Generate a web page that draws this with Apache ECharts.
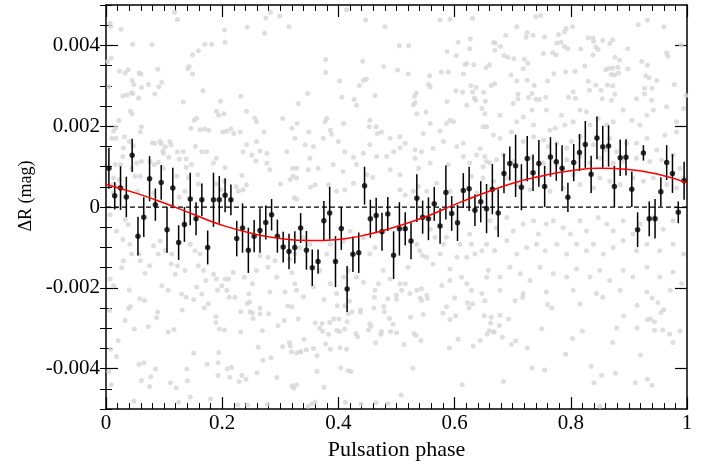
<!DOCTYPE html>
<html>
<head>
<meta charset="utf-8">
<script src="https://cdn.jsdelivr.net/npm/echarts@6/dist/echarts.min.js"></script>
<style>
  html, body { margin: 0; padding: 0; background: #fff; }
  #chart { width: 728px; height: 466px; }
</style>
</head>
<body>
<div id="chart"></div>
<script>
// binned light curve: phase, mean dR, error half-length
var binPhase = [
  0.005,0.015,0.025,0.035,0.045,0.055,0.065,0.075,0.085,0.095,
  0.105,0.115,0.125,0.135,0.145,0.155,0.165,0.175,0.185,0.195,
  0.205,0.215,0.225,0.235,0.245,0.255,0.265,0.275,0.285,0.295,
  0.305,0.315,0.325,0.335,0.345,0.355,0.365,0.375,0.385,0.395,
  0.405,0.415,0.425,0.435,0.445,0.455,0.465,0.475,0.485,0.495,
  0.505,0.515,0.525,0.535,0.545,0.555,0.565,0.575,0.585,0.595,
  0.605,0.615,0.625,0.635,0.645,0.655,0.665,0.675,0.685,0.695,
  0.705,0.715,0.725,0.735,0.745,0.755,0.765,0.775,0.785,0.795,
  0.805,0.815,0.825,0.835,0.845,0.855,0.865,0.875,0.885,0.895,
  0.905,0.915,0.925,0.935,0.945,0.955,0.965,0.975,0.985,0.995
];
var binMag = [
  0.00096,0.00028,0.00047,0.00025,0.00128,-0.00072,-0.00025,0.0007,0.00006,0.00061,
  -0.00056,0.00047,-0.00088,-0.00043,0.0002,-0.00029,0.00018,-0.001,0.00018,0.00018,
  0.00029,0.00018,-0.00078,-0.00052,-0.00107,-0.00072,-0.00058,-0.00038,-0.00019,-0.00072,
  -0.00099,-0.0011,-0.001,-0.00052,-0.00107,-0.0015,-0.00135,-0.00034,-0.00015,-0.00135,
  -0.00053,-0.00203,-0.00117,-0.00113,0.00053,-0.00029,-0.00021,-0.00061,-0.00017,-0.00119,
  -0.00054,-0.00054,-0.00084,0.00022,-0.00025,-0.00029,0.00008,-0.00047,0.00036,-0.00016,
  -0.00039,0.00041,0.00045,-0.00008,0.00013,-0.00004,0.00044,-0.00015,0.00083,0.00108,
  0.00102,0.00049,0.0012,0.00085,0.00108,0.00051,0.00124,0.00112,0.00096,0.00024,
  0.0011,0.00135,0.00155,0.00081,0.00171,0.00149,0.00151,0.00051,0.00122,0.00123,
  0.00044,-0.00056,0.00134,-0.00029,-0.00029,0.00038,0.0011,0.00083,-0.00013,0.00065
];
var binErr = [
  0.00051,0.00034,0.00054,0.0005,0.00041,0.00048,0.00049,0.00056,0.0004,0.00043,
  0.00057,0.0005,0.00043,0.00043,0.00065,0.00041,0.0004,0.00042,0.00067,0.00059,
  0.00042,0.00038,0.00044,0.00061,0.00056,0.0004,0.00055,0.00042,0.00039,0.00041,
  0.00038,0.00044,0.0004,0.00037,0.00048,0.00045,0.0003,0.00049,0.00065,0.00063,
  0.00053,0.00057,0.00044,0.0005,0.00047,0.00047,0.00044,0.00047,0.00042,0.00059,
  0.00066,0.00041,0.00045,0.00059,0.00041,0.00053,0.00042,0.00044,0.00067,0.00043,
  0.00045,0.00043,0.00055,0.00039,0.00051,0.00061,0.00062,0.00059,0.00049,0.00042,
  0.00077,0.00057,0.00056,0.00045,0.00058,0.00051,0.00049,0.00047,0.00057,0.00036,
  0.00046,0.00046,0.00058,0.00046,0.00053,0.00052,0.00051,0.00051,0.00045,0.00045,
  0.00044,0.00043,0.00019,0.00043,0.00049,0.00036,0.00043,0.00048,0.00027,0.00047
];

// fitted curve
var fitPhase = [0,0.05,0.1,0.15,0.2,0.25,0.3,0.35,0.4,0.45,0.5,0.55,0.6,0.65,0.7,0.75,0.8,0.85,0.9,0.95,1];
var fitMag = [0.00056,0.00035,0.0001,-0.00018,-0.00045,-0.00065,-0.00078,-0.00083,-0.0008,-0.00068,
  -0.00048,-0.00024,0.00006,0.00034,0.00059,0.00077,0.0009,0.00096,0.00093,0.00081,0.0006];

// individual measurements (grey), [phase, dR]
var grayTop = [
  [0.118,0.00482],[0.123,0.00464],[0.007,0.00455],[0.008,0.00447],[0.026,0.0044],[0.204,0.00438],
  [0.243,0.00445],[0.275,0.00468],[0.283,0.00482],[0.299,0.00473],[0.315,0.00446],[0.273,0.0043],
  [0.046,0.00403],[0.079,0.00402],[0.17,0.00403],[0.182,0.00403],[0.205,0.00408],[0.159,0.00387],
  [0.149,0.00377],[0.009,0.00369],[0.003,0.0036],[0.023,0.00336],[0.033,0.00332],[0.038,0.0034],
  [0.057,0.00332],[0.06,0.00329],[0.089,0.00341],[0.141,0.00343],[0.143,0.00347],[0.149,0.00329],
  [0.045,0.00313],[0.048,0.00303],[0.061,0.00296],[0.073,0.00303],[0.091,0.00298],[0.096,0.00309],
  [0.005,0.00298],[0.167,0.00288],[0.029,0.00275],[0.036,0.00277],[0.044,0.00283],[0.046,0.00281],
  [0.056,0.0027],[0.084,0.0028],[0.133,0.0026],[0.197,0.00262],[0.232,0.00274],
  [0.414,0.00488],[0.447,0.00463],[0.48,0.00446],[0.575,0.00463],[0.592,0.00465],[0.631,0.00467],
  [0.505,0.00399],[0.521,0.00399],[0.606,0.00408],[0.627,0.00416],[0.626,0.00392],[0.587,0.00385],
  [0.603,0.00375],[0.667,0.00407],[0.669,0.00388],[0.378,0.00365],[0.442,0.00361],[0.478,0.00348],
  [0.618,0.00353],[0.621,0.00355],[0.633,0.00352],[0.654,0.00345],[0.66,0.00352],[0.378,0.00333],
  [0.502,0.00339],[0.52,0.00329],[0.557,0.00325],[0.577,0.00334],[0.589,0.00334],[0.615,0.00329],
  [0.402,0.00312],[0.436,0.00301],[0.443,0.00314],[0.448,0.00316],[0.555,0.00303],[0.558,0.00297],
  [0.628,0.00301],[0.637,0.00296],[0.663,0.00301],[0.347,0.00281],[0.406,0.00272],[0.427,0.00266],
  [0.463,0.00276],[0.531,0.00274],[0.534,0.00282],[0.602,0.00288],[0.614,0.00284],[0.631,0.00285],
  [0.65,0.00284],[0.634,0.0027],[0.636,0.00264],[0.587,0.00261],[0.653,0.00262],[0.532,0.00258],
  [0.74,0.00471],[0.748,0.00474],[0.707,0.00446],[0.803,0.00446],[0.792,0.00442],[0.789,0.00433],
  [0.779,0.00427],[0.725,0.00432],[0.723,0.0042],[0.735,0.00425],[0.755,0.00421],[0.688,0.00425],
  [0.67,0.00406],[0.679,0.00397],[0.776,0.00406],[0.783,0.00408],[0.789,0.00397],[0.795,0.00392],
  [0.817,0.00391],[0.753,0.0038],[0.769,0.00382],[0.775,0.00377],[0.83,0.00419],[0.838,0.00419],
  [0.839,0.0041],[0.855,0.00412],[0.872,0.00414],[0.867,0.00405],[0.843,0.00396],[0.847,0.0039],
  [0.838,0.00376],[0.898,0.00392],[0.916,0.00451],[0.932,0.00462],[0.96,0.00446],[0.99,0.00401],
  [0.965,0.00381],[0.967,0.00373],[0.685,0.00375],[0.692,0.00371],[0.702,0.00367],[0.72,0.00366],
  [0.726,0.00356],[0.718,0.00342],[0.824,0.00349],[0.86,0.0034],[0.865,0.00343],[0.872,0.00344],
  [0.881,0.00346],[0.876,0.00371],[0.884,0.00363],[0.898,0.00342],[0.922,0.0036],[0.932,0.00351],
  [0.697,0.00327],[0.707,0.00312],[0.725,0.00314],[0.737,0.00301],[0.76,0.00312],[0.771,0.0033],
  [0.791,0.00334],[0.807,0.00336],[0.87,0.00328],[0.875,0.00327],[0.882,0.00332],[0.929,0.00325],
  [0.935,0.0032],[0.948,0.00313],[0.978,0.00303],[0.83,0.00311],[0.843,0.00302],[0.863,0.00302],
  [0.872,0.003],[0.669,0.00305],[0.709,0.0028],[0.709,0.00268],[0.727,0.00271],[0.733,0.00281],
  [0.74,0.00267],[0.746,0.00266],[0.757,0.00272],[0.804,0.00285],[0.796,0.00272],[0.808,0.00269],
  [0.832,0.00289],[0.852,0.00289],[0.854,0.00268],[0.876,0.00279],[0.87,0.00264],[0.913,0.00268],
  [0.927,0.00294],[0.927,0.0028],[0.94,0.00294],[0.939,0.00264],[0.998,0.00276]
];
var grayMid = [
  [0.042,0.00237],[0.045,0.00231],[0.022,0.00214],[0.017,0.00196],[0.013,0.00188],[0.061,0.00199],
  [0.01,0.0017],[0.017,0.0017],[0.032,0.00174],[0.04,0.00162],[0.047,0.00152],[0.059,0.00186],
  [0.08,0.00159],[0.084,0.00158],[0.093,0.00163],[0.095,0.00157],[0.098,0.00139],[0.102,0.00149],
  [0.11,0.00162],[0.112,0.00154],[0.099,0.00133],[0.108,0.00123],[0.123,0.00136],[0.133,0.00137],
  [0.126,0.00119],[0.138,0.00119],[0.138,0.00098],[0.152,0.00215],[0.156,0.0022],[0.146,0.00195],
  [0.162,0.00191],[0.17,0.00193],[0.177,0.0019],[0.19,0.00237],[0.194,0.00227],[0.203,0.00231],
  [0.201,0.00186],[0.208,0.00188],[0.215,0.00193],[0.22,0.00182],[0.231,0.00186],[0.242,0.00237],
  [0.256,0.0022],[0.259,0.00211],[0.272,0.00186],[0.304,0.00219],[0.32,0.00195],[0.329,0.00207],
  [0.242,0.00154],[0.236,0.00137],[0.251,0.00129],[0.265,0.00139],[0.277,0.00133],[0.259,0.00162],
  [0.311,0.00137],[0.328,0.00096],[0.321,0.00096],[0.317,0.00068],[0.3,0.00057],[0.282,0.00092],
  [0.277,0.00109],[0.258,0.00114],[0.234,0.00078],[0.242,0.00055],[0.236,0.00043],[0.224,0.00051],
  [0.228,0.00039],[0.185,0.00109],[0.19,0.00121],[0.205,0.00098],[0.204,0.00064],[0.198,0.00043],
  [0.165,0.00137],[0.173,0.00137],[0.154,0.0015],[0.147,0.00105],[0.158,0.0008],[0.159,0.00057],
  [0.19,0.00057],[0.126,0.00024],[0.142,0.00073],[0.122,0.00076],[0.03,0.00146],[0.029,0.00125],
  [0.025,0.00105],[0.016,0.00105],[0.044,0.00096],[0.053,0.00109],[0.061,0.00113],[0.076,0.00113],
  [0.083,0.00105],[0.09,0.00111],[0.099,0.00096],[0.013,0.00072],[0.023,0.00068],[0.011,0.00055],
  [0.013,0.00035],[0.017,0.00051],[0.059,0.00076],[0.05,0.00076],[0.054,0.00039],[0.082,0.00035],
  [0.136,0.00039],[0.007,-0.00019],[0.033,-0.00031],[0.038,-0.00043],[0.018,-0.0006],[0.029,-0.0008],
  [0.027,-0.0015],[0.03,-0.00133],[0.041,-0.00092],[0.044,-0.00116],[0.059,-0.00133],[0.057,-0.00116],
  [0.067,-0.00164],[0.075,-0.00145],[0.082,-0.00096],[0.093,-0.00084],[0.09,-0.00116],[0.102,-0.00108],
  [0.113,-0.00116],[0.112,-0.00141],[0.119,-0.00166],[0.123,-0.00145],[0.136,-0.00157],[0.145,-0.00092],
  [0.153,-0.00108],[0.162,-0.00116],[0.159,-0.00145],[0.168,-0.00157],[0.172,-0.00182],[0.185,-0.00166],
  [0.19,-0.00178],[0.205,-0.00178],[0.211,-0.00178],[0.219,-0.00162],[0.238,-0.00174],[0.252,-0.0019],
  [0.259,-0.00157],[0.265,-0.0012],[0.279,-0.00124],[0.279,-0.00149],[0.291,-0.00133],[0.294,-0.00174],
  [0.316,-0.00129],[0.325,-0.0019],[0.007,-0.00178],[0.013,-0.00195],[0.04,-0.00205],[0.107,-0.00206],
  [0.096,-0.00195],[0.13,-0.00215],[0.156,-0.00198],[0.165,-0.00215],[0.192,-0.00206],[0.199,-0.00195],
  [0.208,-0.00206],[0.246,-0.00215],[0.282,-0.0021],[0.308,-0.0021],
  [0.331,0.00256],[0.38,0.00219],[0.377,0.00211],[0.409,0.00207],[0.431,0.00252],[0.454,0.00215],
  [0.453,0.00199],[0.465,0.00199],[0.467,0.00182],[0.474,0.00186],[0.489,0.0017],[0.506,0.00174],
  [0.529,0.00253],[0.535,0.00231],[0.551,0.00235],[0.546,0.00182],[0.558,0.00207],[0.575,0.00188],
  [0.586,0.00207],[0.592,0.00215],[0.598,0.00211],[0.621,0.00252],[0.647,0.00244],[0.649,0.00199],
  [0.655,0.00199],[0.386,0.0019],[0.388,0.0018],[0.374,0.0017],[0.349,0.00186],[0.325,0.0017],
  [0.343,0.00154],[0.357,0.0015],[0.4,0.00162],[0.411,0.00137],[0.426,0.00123],[0.443,0.00133],
  [0.454,0.00154],[0.466,0.00125],[0.483,0.00125],[0.495,0.00137],[0.506,0.00147],[0.515,0.00158],
  [0.532,0.00141],[0.543,0.00137],[0.563,0.00145],[0.581,0.00162],[0.604,0.0015],[0.615,0.00158],
  [0.638,0.00129],[0.644,0.00145],[0.655,0.00113],[0.351,0.00121],[0.322,0.00076],[0.328,0.00072],
  [0.348,0.00092],[0.365,0.00096],[0.391,0.00105],[0.408,0.00088],[0.431,0.00105],[0.449,0.0008],
  [0.459,0.00073],[0.489,0.00092],[0.506,0.0008],[0.532,0.00121],[0.538,0.00096],[0.558,0.00109],
  [0.589,0.00105],[0.615,0.00125],[0.626,0.00109],[0.649,0.001],[0.629,0.00076],[0.324,0.00023],
  [0.328,0.00019],[0.352,0.00049],[0.36,0.00055],[0.383,0.00055],[0.397,0.00039],[0.411,0.00043],
  [0.426,0.00059],[0.506,0.00043],[0.515,0.0003],[0.529,0.00039],[0.538,0.00051],[0.552,0.00039],
  [0.569,0.00059],[0.592,0.00039],[0.626,0.00023],[0.638,0.00035],[0.586,-0.00075],[0.581,-0.00092],
  [0.558,-0.00055],[0.566,-0.00075],[0.535,-0.00092],[0.54,-0.00108],[0.545,-0.0012],[0.52,-0.00149],
  [0.515,-0.0019],[0.506,-0.0019],[0.489,-0.00178],[0.477,-0.00157],[0.469,-0.0019],[0.463,-0.00206],
  [0.443,-0.00186],[0.431,-0.00174],[0.417,-0.00157],[0.409,-0.00174],[0.397,-0.00214],[0.386,-0.0019],
  [0.368,-0.00157],[0.357,-0.00198],[0.34,-0.00222],[0.328,-0.00206],[0.5,-0.00218],[0.509,-0.00206],
  [0.523,-0.00214],[0.535,-0.00206],[0.543,-0.00202],[0.552,-0.00218],[0.578,-0.00194],[0.592,-0.00182],
  [0.612,-0.00174],[0.621,-0.0019],[0.629,-0.00206],[0.647,-0.00214],[0.655,-0.00174],[0.592,-0.00153],
  [0.604,-0.00124],[0.621,-0.00124],[0.635,-0.00116],[0.647,-0.00108],[0.626,-0.00067],[0.629,-0.00092],
  [0.609,-0.00092],[0.575,-0.00116],[0.563,-0.00141],[0.552,-0.00124],[0.409,-0.00084],[0.42,-0.0006],
  [0.443,-0.00076],[0.454,-0.00116],[0.463,-0.001],[0.386,-0.00092],[0.38,-0.00116],[0.351,-0.00092],
  [0.34,-0.00076],[0.334,-0.001],[0.325,-0.00116],[0.32,-0.00162],
  [0.652,0.00231],[0.678,0.00227],[0.701,0.00256],[0.707,0.00211],[0.718,0.00223],[0.733,0.0024],
  [0.736,0.00203],[0.758,0.0024],[0.764,0.0019],[0.773,0.00195],[0.784,0.00227],[0.79,0.00203],
  [0.804,0.00211],[0.816,0.0024],[0.827,0.00236],[0.833,0.00203],[0.847,0.00219],[0.862,0.00203],
  [0.873,0.00211],[0.89,0.0024],[0.905,0.00215],[0.919,0.00203],[0.931,0.00227],[0.942,0.0024],
  [0.965,0.00248],[0.982,0.00211],[0.994,0.00244],[0.667,0.00178],[0.678,0.0017],[0.698,0.00186],
  [0.718,0.00162],[0.736,0.00174],[0.753,0.00166],[0.761,0.0015],[0.776,0.00158],[0.793,0.00146],
  [0.801,0.00162],[0.816,0.00174],[0.839,0.00154],[0.859,0.00141],[0.867,0.0017],[0.879,0.00137],
  [0.896,0.00158],[0.913,0.00158],[0.931,0.0017],[0.948,0.00141],[0.962,0.00178],[0.982,0.00186],
  [0.652,0.00125],[0.661,0.00109],[0.672,0.00117],[0.684,0.00129],[0.701,0.00113],[0.733,0.00121],
  [0.753,0.00109],[0.776,0.00105],[0.793,0.00117],[0.816,0.00125],[0.833,0.00109],[0.85,0.00121],
  [0.873,0.00109],[0.89,0.00113],[0.913,0.00121],[0.936,0.00113],[0.956,0.00117],[0.976,0.00129],
  [0.988,0.00096],[0.649,0.00072],[0.667,0.00064],[0.69,0.00072],[0.707,0.00056],[0.73,0.00043],
  [0.744,0.00072],[0.764,0.00039],[0.787,0.00047],[0.804,0.0008],[0.816,0.00056],[0.839,0.00047],
  [0.85,0.00072],[0.867,0.00064],[0.885,0.00056],[0.907,0.00072],[0.925,0.00064],[0.942,0.00072],
  [0.965,0.00056],[0.982,0.00047],[0.994,0.00072],[0.661,-0.00034],[0.672,-0.00051],[0.69,-0.00026],
  [0.701,-0.00059],[0.718,-0.00042],[0.736,-0.00034],[0.744,-0.00067],[0.758,-0.00042],[0.77,-0.00034],
  [0.787,-0.00051],[0.799,-0.00067],[0.816,-0.00034],[0.827,-0.00059],[0.847,-0.00026],[0.862,-0.00042],
  [0.873,-0.00059],[0.89,-0.00034],[0.907,-0.00067],[0.919,-0.00042],[0.942,-0.00026],[0.959,-0.00055],
  [0.976,-0.00034],[0.655,-0.00092],[0.669,-0.00108],[0.69,-0.00083],[0.707,-0.00116],[0.724,-0.001],
  [0.741,-0.00092],[0.756,-0.00108],[0.776,-0.00092],[0.793,-0.00116],[0.81,-0.00092],[0.827,-0.00108],
  [0.839,-0.00092],[0.856,-0.00116],[0.873,-0.001],[0.89,-0.00083],[0.913,-0.00108],[0.931,-0.00092],
  [0.953,-0.00108],[0.976,-0.00092],[0.994,-0.00116],[0.658,-0.00157],[0.678,-0.00173],[0.695,-0.00149],
  [0.713,-0.00165],[0.73,-0.00182],[0.747,-0.00149],[0.77,-0.00165],[0.793,-0.00173],[0.81,-0.00153],
  [0.833,-0.00173],[0.85,-0.00157],[0.867,-0.00182],[0.89,-0.00157],[0.907,-0.00173],[0.931,-0.00149],
  [0.953,-0.00173],[0.976,-0.00161],[0.991,-0.0019],[0.678,-0.00206],[0.718,-0.00214],[0.758,-0.0021],
  [0.804,-0.00206],[0.844,-0.00214],[0.885,-0.00206],[0.931,-0.0021],[0.971,-0.00206]
];
var grayBottom = [
  [0.058,-0.00227],[0.066,-0.00231],[0.039,-0.00251],[0.042,-0.00246],[0.033,-0.00281],[0.049,-0.00302],
  [0.073,-0.00296],[0.089,-0.0026],[0.087,-0.00274],[0.107,-0.00309],[0.117,-0.00303],[0.131,-0.00255],
  [0.138,-0.00223],[0.151,-0.00229],[0.169,-0.00249],[0.176,-0.00239],[0.189,-0.00271],[0.189,-0.00286],
  [0.195,-0.00302],[0.204,-0.00304],[0.212,-0.00223],[0.222,-0.00223],[0.232,-0.00259],[0.243,-0.00239],
  [0.247,-0.00235],[0.248,-0.00259],[0.252,-0.00262],[0.253,-0.00276],[0.265,-0.0025],[0.265,-0.00264],
  [0.28,-0.00264],[0.269,-0.00306],[0.296,-0.00293],[0.307,-0.00281],[0.313,-0.00245],[0.32,-0.00247],
  [0.331,-0.00277],[0.232,-0.00309],[0.006,-0.00256],[0.021,-0.00331],[0.008,-0.00352],[0.018,-0.0037],
  [0.057,-0.00389],[0.065,-0.00385],[0.085,-0.00401],[0.061,-0.00429],[0.077,-0.0042],[0.075,-0.00444],
  [0.111,-0.00435],[0.121,-0.00448],[0.139,-0.00401],[0.14,-0.0043],[0.151,-0.00361],[0.145,-0.0047],
  [0.125,-0.00483],[0.174,-0.00389],[0.18,-0.00475],[0.194,-0.0036],[0.193,-0.00385],[0.193,-0.00417],
  [0.209,-0.004],[0.216,-0.00397],[0.213,-0.00421],[0.229,-0.00432],[0.234,-0.00416],[0.241,-0.00426],
  [0.26,-0.0041],[0.262,-0.00347],[0.27,-0.00379],[0.284,-0.00373],[0.294,-0.00422],[0.304,-0.00345],
  [0.316,-0.00335],[0.317,-0.00343],[0.319,-0.00358],[0.328,-0.00361],[0.334,-0.00358],[0.32,-0.00442],
  [0.323,-0.00448],[0.328,-0.0044],[0.005,-0.00407],[0.009,-0.0044],[0.048,-0.0048],[0.227,-0.0049],
  [0.244,-0.0049],[0.278,-0.00488],
  [0.375,-0.00229],[0.398,-0.00244],[0.411,-0.00244],[0.419,-0.00233],[0.417,-0.00264],[0.424,-0.00259],
  [0.438,-0.00254],[0.438,-0.00261],[0.461,-0.0025],[0.462,-0.00223],[0.478,-0.00246],[0.479,-0.00259],
  [0.485,-0.00227],[0.5,-0.00228],[0.541,-0.00225],[0.543,-0.00231],[0.553,-0.00226],[0.6,-0.00225],
  [0.622,-0.00237],[0.631,-0.00239],[0.625,-0.00249],[0.652,-0.00232],[0.36,-0.00287],[0.372,-0.00288],
  [0.368,-0.003],[0.373,-0.00308],[0.383,-0.00315],[0.385,-0.00286],[0.392,-0.00277],[0.401,-0.00277],
  [0.415,-0.00284],[0.397,-0.00305],[0.402,-0.00308],[0.411,-0.00302],[0.43,-0.00313],[0.433,-0.00321],
  [0.454,-0.00289],[0.456,-0.00295],[0.452,-0.00304],[0.474,-0.00308],[0.473,-0.00315],[0.488,-0.00276],
  [0.494,-0.0029],[0.49,-0.00308],[0.5,-0.00311],[0.524,-0.00273],[0.546,-0.00266],[0.53,-0.00313],
  [0.534,-0.00318],[0.542,-0.0033],[0.58,-0.00262],[0.586,-0.00247],[0.592,-0.00278],[0.602,-0.00269],
  [0.651,-0.00269],[0.663,-0.00273],[0.662,-0.00287],[0.667,-0.00309],[0.656,-0.00314],[0.66,-0.00306],
  [0.606,-0.00327],[0.644,-0.0033],[0.632,-0.00344],[0.591,-0.00349],[0.513,-0.0034],[0.464,-0.00336],
  [0.341,-0.00328],[0.345,-0.00353],[0.335,-0.00358],[0.357,-0.0035],[0.363,-0.00368],[0.378,-0.00338],
  [0.386,-0.00352],[0.403,-0.00348],[0.414,-0.00352],[0.363,-0.00407],[0.404,-0.00398],[0.417,-0.00405],
  [0.422,-0.00407],[0.528,-0.00399],[0.375,-0.00446],[0.613,-0.0044],[0.508,-0.00465],[0.348,-0.00493],
  [0.355,-0.00487],[0.36,-0.00483],[0.412,-0.00483],[0.439,-0.00488],[0.465,-0.00484],[0.485,-0.00486],
  [0.704,-0.00232],[0.717,-0.00224],[0.76,-0.00241],[0.767,-0.0025],[0.816,-0.0024],[0.855,-0.00223],
  [0.94,-0.00225],[0.95,-0.00236],[0.914,-0.00243],[0.678,-0.00268],[0.677,-0.00293],[0.693,-0.00277],
  [0.668,-0.00309],[0.682,-0.00322],[0.698,-0.0034],[0.705,-0.00331],[0.725,-0.00349],[0.75,-0.00301],
  [0.803,-0.00325],[0.82,-0.00307],[0.791,-0.00364],[0.891,-0.00269],[0.879,-0.00299],[0.872,-0.00335],
  [0.932,-0.00278],[0.937,-0.00277],[0.944,-0.00284],[0.955,-0.00261],[0.96,-0.00254],[0.914,-0.00299],
  [0.944,-0.00305],[0.958,-0.00304],[0.97,-0.00314],[0.988,-0.00307],[0.976,-0.00335],[0.92,-0.00366],
  [0.733,-0.00398],[0.755,-0.00403],[0.835,-0.00394],[0.853,-0.00416],[0.877,-0.00411],[0.84,-0.00435],
  [0.684,-0.00432],[0.911,-0.00435],[0.932,-0.00426],[0.94,-0.00441],[0.85,-0.00493]
];

var yMajor = [-0.004, -0.002, 0, 0.002, 0.004];
var zeroLine = [[0, 0], [1, 0]];

var font = "'Liberation Serif', 'DejaVu Serif', serif";

var binData = binPhase.map(function (p, i) { return [p, binMag[i], binErr[i]]; });
var fitData = fitPhase.map(function (p, i) { return [p, fitMag[i]]; });
var grayData = grayTop.concat(grayMid, grayBottom);

function xAxisCfg(pos, showLabel) {
  return {
    type: "value", position: pos, min: 0, max: 1, interval: 0.2,
    axisLine: { show: true, onZero: false, lineStyle: { color: "#000", width: 1.5 } },
    axisTick: { show: true, inside: true, length: 12, lineStyle: { color: "#000", width: 1.2 } },
    minorTick: { show: true, splitNumber: 10, length: 6, lineStyle: { color: "#000", width: 1 } },
    splitLine: { show: false },
    axisLabel: { show: showLabel, color: "#000", fontSize: 21, fontFamily: font, margin: 4 },
  };
}
function yMajorCfg(pos, showLabel) {
  return {
    type: "value", position: pos, min: -0.005, max: 0.005, interval: 0.0005,
    axisLine: { show: true, onZero: false, lineStyle: { color: "#000", width: 1.5 } },
    axisTick: { show: true, inside: true, length: 12, customValues: yMajor, lineStyle: { color: "#000", width: 1.2 } },
    splitLine: { show: false },
    axisLabel: { show: showLabel, customValues: yMajor, color: "#000", fontSize: 21, fontFamily: font, margin: 6 },
  };
}
function yMinorCfg(pos) {
  return {
    type: "value", position: pos, min: -0.005, max: 0.005, interval: 0.0005,
    axisLine: { show: false },
    axisTick: { show: true, inside: true, length: 6, lineStyle: { color: "#000", width: 1 } },
    splitLine: { show: false },
    axisLabel: { show: false },
  };
}

var xBottom = xAxisCfg("bottom", true);
xBottom.name = "Pulsation phase";
xBottom.nameLocation = "middle";
xBottom.nameGap = 24;
xBottom.nameTextStyle = { color: "#000", fontSize: 22, fontFamily: font };

var yLeft = yMajorCfg("left", true);
yLeft.name = "ΔR (mag)";
yLeft.nameLocation = "middle";
yLeft.nameGap = 68;
yLeft.nameTextStyle = { color: "#000", fontSize: 18, fontFamily: font, padding: [0, 0, 0, 22] };

var chart = echarts.init(document.getElementById("chart"));
var option = {
  animation: false,
  backgroundColor: "#fff",
  grid: { left: 106, right: 41, top: 5, bottom: 53 },
  xAxis: [xBottom, xAxisCfg("top", false)],
  yAxis: [yLeft, yMinorCfg("left"), yMajorCfg("right", false), yMinorCfg("right")],
  series: [
    {
      type: "scatter", data: grayData, symbol: "circle", symbolSize: 5,
      itemStyle: { color: "#d6d6d6" }, z: 1, silent: true,
    },
    {
      type: "line", data: zeroLine, symbol: "none", z: 2, silent: true,
      lineStyle: { color: "#000", width: 1.2, type: [5, 3] },
    },
    {
      type: "custom", data: binData, z: 3, silent: true,
      encode: { x: 0, y: 1 },
      renderItem: function (params, api) {
        var x = api.value(0), y = api.value(1), e = api.value(2);
        var p1 = api.coord([x, y + e]);
        var p2 = api.coord([x, y - e]);
        return {
          type: "line",
          shape: { x1: p1[0], y1: p1[1], x2: p2[0], y2: p2[1] },
          style: { stroke: "#000", lineWidth: 1.5 },
        };
      },
    },
    {
      type: "scatter", data: binData, symbol: "circle", symbolSize: 5.5,
      itemStyle: { color: "#000" }, z: 4, silent: true,
    },
    {
      type: "line", data: fitData, symbol: "none", smooth: true, z: 5, silent: true,
      lineStyle: { color: "#ff0000", width: 1.5 },
    },
  ],
};
chart.setOption(option);
</script>
</body>
</html>
